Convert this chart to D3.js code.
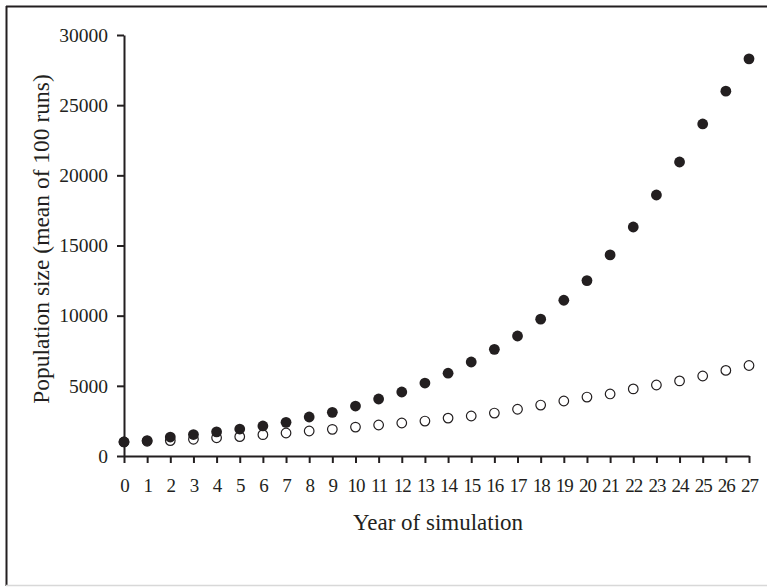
<!DOCTYPE html>
<html>
<head>
<meta charset="utf-8">
<script src="https://cdn.jsdelivr.net/npm/d3@7"></script>
<style>
  body { margin: 0; background: #fff; }
  svg { display: block; font-family: "Liberation Serif", "Times New Roman", serif; }
</style>
</head>
<body>
<div id="chart"></div>
<script>
const years = d3.range(0, 28);
const yTicks = [0, 5000, 10000, 15000, 20000, 25000, 30000];

// filled circles
const seriesA = [1000, 1100, 1350, 1530, 1720, 1920, 2140, 2400, 2780, 3110,
  3560, 4060, 4560, 5200, 5900, 6700, 7600, 8550, 9750, 11100,
  12500, 14330, 16320, 18600, 20950, 23660, 26000, 28300];
// open circles
const seriesB = [1000, 1050, 1100, 1190, 1300, 1380, 1520, 1640, 1780, 1900,
  2060, 2210, 2350, 2490, 2700, 2850, 3060, 3330, 3630, 3920,
  4200, 4420, 4780, 5060, 5350, 5700, 6100, 6450];

const width = 767;
const height = 587;
const ink = "#231f20";

const svg = d3.select("#chart").append("svg")
  .attr("width", width)
  .attr("height", height);

// frame
svg.append("line").attr("x1", 6.5).attr("x2", 6.5).attr("y1", 6).attr("y2", 586)
  .attr("stroke", ink).attr("stroke-width", 2);
svg.append("line").attr("x1", 6).attr("x2", 767).attr("y1", 6.5).attr("y2", 6.5)
  .attr("stroke", ink).attr("stroke-width", 2);
svg.append("line").attr("x1", 6).attr("x2", 767).attr("y1", 585.5).attr("y2", 585.5)
  .attr("stroke", "#d8d8d8").attr("stroke-width", 1.5);

const x = d3.scaleLinear().domain([0, 27]).range([124, 749]);
const y = d3.scaleLinear().domain([0, 30000]).range([456, 35]);

const xAxis = svg.append("g")
  .attr("transform", `translate(0,${y(0)})`)
  .call(d3.axisBottom(x).tickValues(years).tickFormat(d3.format("d")).tickSize(7).tickPadding(16).tickSizeOuter(0));

const yAxis = svg.append("g")
  .attr("transform", `translate(${x(0)},0)`)
  .call(d3.axisLeft(y).tickValues(yTicks).tickFormat(d3.format("d")).tickSize(7).tickPadding(9).tickSizeOuter(0));

[xAxis, yAxis].forEach(g => {
  g.select(".domain").attr("stroke", ink).attr("stroke-width", 2);
  g.selectAll(".tick line").attr("stroke", ink).attr("stroke-width", 2);
  g.selectAll(".tick text").attr("fill", ink)
    .style("font-family", "'Liberation Serif', serif");
});
yAxis.selectAll(".tick text").style("font-size", "19.5px");
xAxis.selectAll(".tick text").style("font-size", "19px").attr("letter-spacing", "-1");

svg.append("g").selectAll("circle.open")
  .data(seriesB)
  .join("circle")
  .attr("cx", (d, i) => x(years[i]))
  .attr("cy", d => y(d))
  .attr("r", 4.8)
  .attr("fill", "#fff")
  .attr("stroke", ink)
  .attr("stroke-width", 1.2);

svg.append("g").selectAll("circle.filled")
  .data(seriesA)
  .join("circle")
  .attr("cx", (d, i) => x(years[i]))
  .attr("cy", d => y(d))
  .attr("r", 5.4)
  .attr("fill", ink);

svg.append("text")
  .attr("x", 438)
  .attr("y", 530)
  .attr("text-anchor", "middle")
  .attr("fill", ink)
  .style("font-size", "23px")
  .text("Year of simulation");

svg.append("text")
  .attr("transform", "translate(49,239) rotate(-90)")
  .attr("text-anchor", "middle")
  .attr("fill", ink)
  .style("font-size", "23.5px")
  .text("Population size (mean of 100 runs)");
</script>
</body>
</html>
